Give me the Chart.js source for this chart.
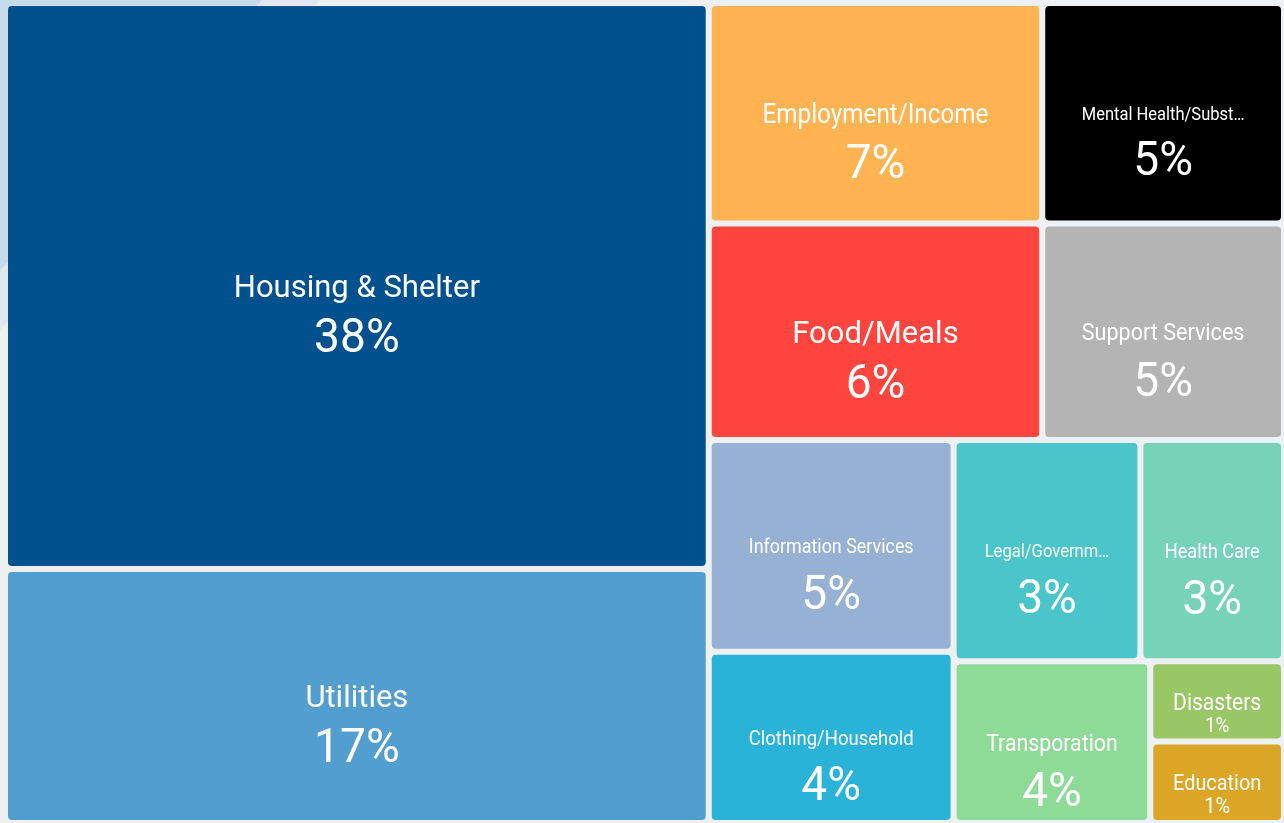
<!DOCTYPE html>
<html>
<head>
<meta charset="utf-8">
<script src="https://cdn.jsdelivr.net/npm/chart.js@4.4.1/dist/chart.umd.min.js"></script>
<style>
  html, body { margin: 0; padding: 0; width: 1284px; height: 823px; overflow: hidden; background: #eef1f4; }
  #wrap { position: relative; width: 1284px; height: 823px; }
  .deco1 { position: absolute; left: 0; top: 0; width: 1284px; height: 823px; background: #dfe8f0;
           clip-path: polygon(0 0, 320px 0, 0 330px); }
  .deco2 { position: absolute; left: 0; top: 0; width: 1284px; height: 823px; background: #c7dbea;
           clip-path: polygon(0 0, 262px 0, 0 270px); }
  canvas { position: absolute; left: 0; top: 0; }
</style>
</head>
<body>
<div id="wrap">
  <div class="deco1"></div>
  <div class="deco2"></div>
  <canvas id="chart" width="1284" height="823"></canvas>
</div>
<script>
// ---- data ----
const categories = [
  'Housing & Shelter', 'Utilities', 'Employment/Income', 'Food/Meals',
  'Mental Health/Substance Abuse', 'Support Services', 'Information Services',
  'Clothing/Household', 'Legal/Government', 'Health Care', 'Transporation',
  'Disasters', 'Education'
];
// relative sizes of the cells (estimated from the areas in the picture)
const values = [37.96, 17.04, 7.01, 6.88, 5.08, 4.99, 4.94, 4.00, 3.94, 3.03, 3.03, 1.02, 1.04];
// percentages printed in the cells
const percentLabels = ['38%', '17%', '7%', '6%', '5%', '5%', '5%', '4%', '3%', '3%', '4%', '1%', '1%'];
const colors = [
  '#01518f', '#529ecf', '#ffb351', '#ff453d', '#000000', '#b4b4b4', '#96b1d3',
  '#2ab3d9', '#4ac5c9', '#76d3b7', '#8edb98', '#9ac765', '#dba526'
];

// ---- binary treemap tiling (same idea as d3.treemapBinary) ----
function binaryLayout(vals, x0, y0, x1, y1, sx, sy) {
  const n = vals.length;
  const sums = [0];
  for (let i = 0; i < n; i++) sums.push(sums[i] + vals[i]);
  const out = new Array(n);
  function part(i, j, value, a0, b0, a1, b1) {
    if (i >= j - 1) { out[i] = { x0: a0, y0: b0, x1: a1, y1: b1 }; return; }
    const off = sums[i], target = value / 2 + off;
    let k = i + 1, hi = j - 1;
    while (k < hi) { const mid = (k + hi) >>> 1; if (sums[mid] < target) k = mid + 1; else hi = mid; }
    if ((target - sums[k - 1]) < (sums[k] - target) && i + 1 < k) --k;
    const vl = sums[k] - off, vr = value - vl;
    if ((a1 - a0) * sx > (b1 - b0) * sy) {
      const xk = value ? (a0 * vr + a1 * vl) / value : a1;
      part(i, k, vl, a0, b0, xk, b1); part(k, j, vr, xk, b0, a1, b1);
    } else {
      const yk = value ? (b0 * vr + b1 * vl) / value : b1;
      part(i, k, vl, a0, b0, a1, yk); part(k, j, vr, a0, yk, a1, b1);
    }
  }
  part(0, n, sums[n], x0, y0, x1, y1);
  return out;
}

class TreemapController extends Chart.DatasetController {
  parse(start, count) {
    const meta = this._cachedMeta;
    const data = this.getDataset().data;
    for (let i = start; i < start + count; i++) meta._parsed[i] = { x: i, y: +data[i] };
  }
  update(mode) {
    const meta = this._cachedMeta;
    this.updateElements(meta.data, 0, meta.data.length, mode);
  }
  updateElements(elems, start, count, mode) {
    const meta = this._cachedMeta;
    const xs = meta.xScale, ys = meta.yScale;
    const vals = meta._parsed.map(p => p.y);
    const sx = Math.abs(xs.getPixelForValue(1) - xs.getPixelForValue(0));
    const sy = Math.abs(ys.getPixelForValue(1) - ys.getPixelForValue(0));
    const rects = binaryLayout(vals, xs.min, ys.min, xs.max, ys.max, sx, sy);
    const gap = 3;
    for (let i = start; i < start + count; i++) {
      const r = rects[i];
      const px0 = xs.getPixelForValue(r.x0), px1 = xs.getPixelForValue(r.x1);
      const py0 = ys.getPixelForValue(r.y0), py1 = ys.getPixelForValue(r.y1);
      const left = Math.min(px0, px1) + gap, right = Math.max(px0, px1) - gap;
      const top = Math.min(py0, py1) + gap, bottom = Math.max(py0, py1) - gap;
      const options = this.resolveDataElementOptions(i, mode);
      this.updateElement(elems[i], i, {
        x: (left + right) / 2, y: top, base: bottom,
        width: right - left, height: bottom - top,
        horizontal: false, enableBorderRadius: true, inflateAmount: 0,
        borderSkipped: { top: false, left: false, bottom: false, right: false },
        options
      }, 'none');
    }
  }
  draw() {
    super.draw();
    const ctx = this.chart.ctx;
    const meta = this._cachedMeta;
    const labels = this.chart.data.labels;
    const family = 'Roboto, "Noto Sans", sans-serif';
    const K = 0.88;          // narrowest horizontal squeeze allowed for names
    const capH = 0.711;      // cap height of the font, in em
    const drawText = (txt, x, y, s) => {
      ctx.save(); ctx.translate(x, y); ctx.scale(s, 1); ctx.fillText(txt, 0, 0); ctx.restore();
    };
    ctx.save();
    ctx.fillStyle = '#ffffff';
    ctx.textAlign = 'center';
    ctx.textBaseline = 'alphabetic';
    meta.data.forEach((el, i) => {
      const w = el.width, h = el.height;
      const cx = el.x, cy = el.y + h / 2;
      const maxW = w * 0.69;
      let name = labels[i];
      ctx.font = '100px ' + family;
      const per = ctx.measureText(name).width / 100;
      let fs = Math.min(31, maxW / (per * K));
      if (fs < 18) {
        fs = 18;
        ctx.font = fs + 'px ' + family;
        let t = name;
        while (t.length > 1 && ctx.measureText(t.trimEnd() + '\u2026').width * K > maxW) t = t.slice(0, -1);
        name = t.trimEnd() + '\u2026';
      }
      ctx.font = fs + 'px ' + family;
      const nw = ctx.measureText(name).width;
      const sN = Math.min(1, maxW / nw);
      drawText(name, cx, cy + capH * fs / 2, sN);

      const vf = Math.min(49, 0.4 * (h - fs));
      ctx.font = vf + 'px ' + family;
      const vCenter = cy + 0.8 * vf + 0.3 * fs;
      drawText(percentLabels[i], cx, vCenter + capH * vf / 2, 0.94);
    });
    ctx.restore();
  }
}
TreemapController.id = 'treemap';
TreemapController.defaults = { datasetElementType: false, dataElementType: 'bar' };
TreemapController.overrides = {};
Chart.register(TreemapController);

new Chart(document.getElementById('chart').getContext('2d'), {
  type: 'treemap',
  data: {
    labels: categories,
    datasets: [{ data: values, backgroundColor: colors, borderWidth: 0, borderRadius: 4 }]
  },
  options: {
    responsive: false,
    devicePixelRatio: 1,
    animation: false,
    events: [],
    layout: { padding: { left: 5, top: 3, right: -1, bottom: -3 } },
    plugins: { legend: { display: false }, tooltip: { enabled: false }, title: { display: false } },
    scales: {
      x: { type: 'linear', min: 0, max: 100, display: false },
      y: { type: 'linear', min: 0, max: 100, reverse: true, display: false }
    }
  }
});
</script>
</body>
</html>
